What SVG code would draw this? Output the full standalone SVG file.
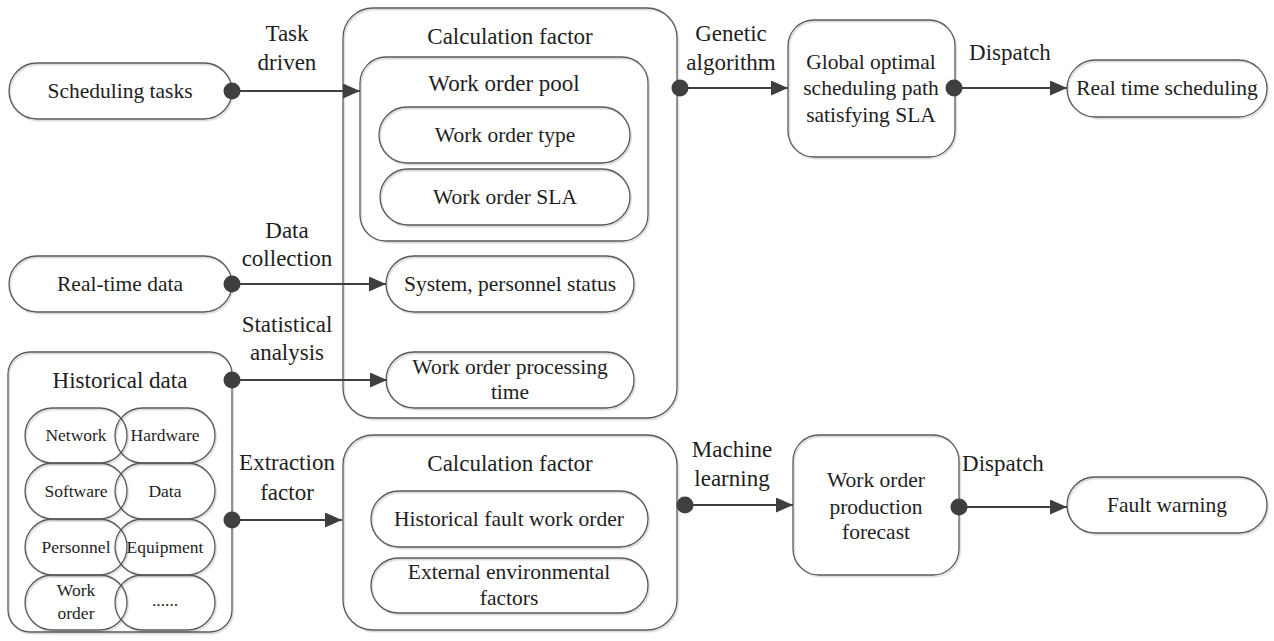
<svg xmlns="http://www.w3.org/2000/svg" width="1274" height="641" viewBox="0 0 1274 641">
<defs>
<style>
.bx{fill:none;stroke:#5a5a5a;stroke-width:1.3;filter:url(#sh)}
.t{font-family:"Liberation Serif","Times New Roman",serif;fill:#1e1e1e;text-anchor:middle}
.h{font-size:23px}
.m{font-size:21.5px}
.s{font-size:17.5px}
.ln{stroke:#3f3f3f;stroke-width:2;fill:none}
.dot{fill:#3f3f3f}
</style>
<filter id="sh" x="-5%" y="-5%" width="110%" height="110%">
<feDropShadow dx="1.2" dy="1.5" stdDeviation="0.7" flood-color="#000" flood-opacity="0.18"/>
</filter>
<marker id="ar" markerUnits="userSpaceOnUse" markerWidth="18" markerHeight="16" refX="17" refY="7.5" orient="auto">
<path d="M0,0 L17,7.5 L0,15 Z" fill="#3f3f3f"/>
</marker>
</defs>

<g id="scheduling-tasks">
<rect class="bx" x="9" y="63" width="223" height="56" rx="28"/>
<text class="t m" x="120" y="98">Scheduling tasks</text>
</g>
<g id="real-time-data">
<rect class="bx" x="9" y="256" width="223" height="56" rx="28"/>
<text class="t m" x="120" y="291">Real-time data</text>
</g>
<g id="historical-data">
<rect class="bx" x="8" y="352" width="224" height="280" rx="22"/>
<text class="t h" x="120" y="388">Historical data</text>
<rect class="bx" x="25" y="408" width="102" height="55" rx="27.5"/>
<rect class="bx" x="115" y="408" width="100" height="55" rx="27.5"/>
<rect class="bx" x="25" y="463" width="102" height="56" rx="28"/>
<rect class="bx" x="115" y="463" width="100" height="56" rx="28"/>
<rect class="bx" x="25" y="519" width="102" height="56" rx="28"/>
<rect class="bx" x="115" y="519" width="100" height="56" rx="28"/>
<rect class="bx" x="25" y="575" width="102" height="55" rx="27.5"/>
<rect class="bx" x="115" y="575" width="100" height="55" rx="27.5"/>
<text class="t s" x="76" y="441">Network</text>
<text class="t s" x="165" y="441">Hardware</text>
<text class="t s" x="76" y="497">Software</text>
<text class="t s" x="165" y="497">Data</text>
<text class="t s" x="76" y="553">Personnel</text>
<text class="t s" x="165" y="553">Equipment</text>
<text class="t s" x="76" y="596">Work</text>
<text class="t s" x="76" y="619">order</text>
<text class="t s" x="165" y="606">......</text>
</g>

<g id="calculation-factor-top">
<rect class="bx" x="343" y="8" width="334" height="410" rx="30"/>
<text class="t h" x="510" y="44">Calculation factor</text>
</g>
<g id="work-order-pool">
<rect class="bx" x="360" y="57" width="288" height="184" rx="26"/>
<text class="t h" x="504" y="91">Work order pool</text>
</g>
<g id="work-order-type">
<rect class="bx" x="379" y="107" width="251" height="56" rx="28"/>
<text class="t m" x="505" y="142">Work order type</text>
</g>
<g id="work-order-sla">
<rect class="bx" x="380" y="169" width="250" height="56" rx="28"/>
<text class="t m" x="505" y="204">Work order SLA</text>
</g>
<g id="system-personnel-status">
<rect class="bx" x="386" y="256" width="248" height="56" rx="28"/>
<text class="t m" x="510" y="291">System, personnel status</text>
</g>
<g id="work-order-processing-time">
<rect class="bx" x="386" y="352" width="248" height="56" rx="28"/>
<text class="t m" x="510" y="374">Work order processing</text>
<text class="t m" x="510" y="399">time</text>
</g>

<g id="calculation-factor-bottom">
<rect class="bx" x="343" y="435" width="334" height="195" rx="30"/>
<text class="t h" x="510" y="471">Calculation factor</text>
</g>
<g id="historical-fault-work-order">
<rect class="bx" x="371" y="491" width="277" height="56" rx="28"/>
<text class="t m" x="509" y="526">Historical fault work order</text>
</g>
<g id="external-environmental-factors">
<rect class="bx" x="371" y="558" width="277" height="55" rx="27.5"/>
<text class="t m" x="509" y="579">External environmental</text>
<text class="t m" x="509" y="605">factors</text>
</g>

<g id="global-optimal-path">
<rect class="bx" x="788" y="20" width="167" height="137" rx="26"/>
<text class="t m" x="871" y="69">Global optimal</text>
<text class="t m" x="871" y="95">scheduling path</text>
<text class="t m" x="871" y="122">satisfying SLA</text>
</g>
<g id="real-time-scheduling">
<rect class="bx" x="1067" y="60" width="200" height="57" rx="28.5"/>
<text class="t m" x="1167" y="95">Real time scheduling</text>
</g>
<g id="work-order-production-forecast">
<rect class="bx" x="793" y="435" width="166" height="140" rx="26"/>
<text class="t m" x="876" y="487">Work order</text>
<text class="t m" x="876" y="514">production</text>
<text class="t m" x="876" y="539">forecast</text>
</g>
<g id="fault-warning">
<rect class="bx" x="1067" y="477" width="200" height="56" rx="28"/>
<text class="t m" x="1167" y="512">Fault warning</text>
</g>

<g id="connectors">
<line class="ln" x1="232" y1="91" x2="360" y2="91" marker-end="url(#ar)"/>
<circle class="dot" cx="232" cy="91" r="8.5"/>
<line class="ln" x1="232" y1="284" x2="386" y2="284" marker-end="url(#ar)"/>
<circle class="dot" cx="232" cy="284" r="8.5"/>
<line class="ln" x1="232" y1="380" x2="387" y2="380" marker-end="url(#ar)"/>
<circle class="dot" cx="232" cy="380" r="8.5"/>
<line class="ln" x1="232" y1="520" x2="342" y2="520" marker-end="url(#ar)"/>
<circle class="dot" cx="232" cy="520" r="8.5"/>
<line class="ln" x1="680" y1="88" x2="788" y2="88" marker-end="url(#ar)"/>
<circle class="dot" cx="680" cy="88" r="8.5"/>
<line class="ln" x1="954" y1="88" x2="1067" y2="88" marker-end="url(#ar)"/>
<circle class="dot" cx="954" cy="88" r="8.5"/>
<line class="ln" x1="685" y1="505" x2="793" y2="505" marker-end="url(#ar)"/>
<circle class="dot" cx="685" cy="505" r="8.5"/>
<line class="ln" x1="959" y1="507" x2="1067" y2="507" marker-end="url(#ar)"/>
<circle class="dot" cx="959" cy="507" r="8.5"/>
<text class="t h" x="287" y="41">Task</text>
<text class="t h" x="287" y="70">driven</text>
<text class="t h" x="287" y="238">Data</text>
<text class="t h" x="287" y="266">collection</text>
<text class="t h" x="287" y="332">Statistical</text>
<text class="t h" x="287" y="360">analysis</text>
<text class="t h" x="287" y="470">Extraction</text>
<text class="t h" x="287" y="500">factor</text>
<text class="t h" x="731" y="41">Genetic</text>
<text class="t h" x="731" y="70">algorithm</text>
<text class="t h" x="1010" y="60">Dispatch</text>
<text class="t h" x="732" y="457">Machine</text>
<text class="t h" x="732" y="486">learning</text>
<text class="t h" x="1003" y="471">Dispatch</text>
</g>
</svg>
